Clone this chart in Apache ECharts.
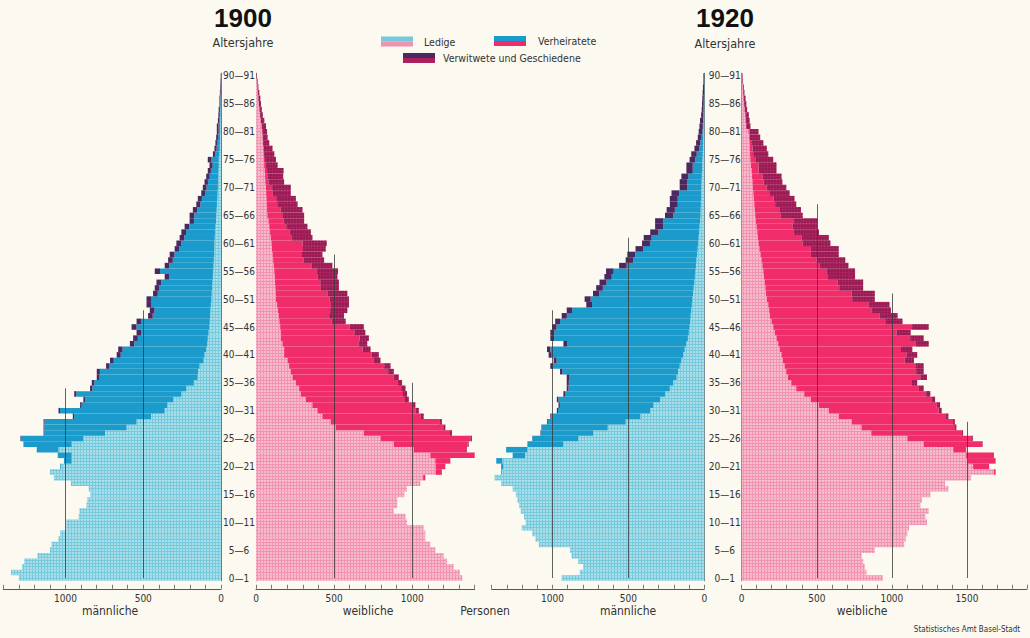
<!DOCTYPE html>
<html><head><meta charset="utf-8">
<script src="https://cdn.jsdelivr.net/npm/echarts/dist/echarts.min.js"></script>
<style>html,body{margin:0;padding:0;background:#fbf9f0;}#c{width:1030px;height:638px;}</style>
</head><body><div id="c"></div><script>
// Age categories 0..90 (single years)
const ages = Array.from({length: 91}, (_, i) => String(i));
const ageTickLabels = ['0—1','5—6','10—11','15—16','20—21','25—26','30—31','35—36','40—41','45—46','50—51','55—56','60—61','65—66','70—71','75—76','80—81','85—86','90—91'];
const xTickLabels = [0, 500, 1000, 1500];

// 1900 männliche
const m1900Single = [1300,1350,1280,1265,1180,1100,1090,1045,1035,995, 995,915,910,865,860,840,850,965,1075,1100, 1030,960,960,1045,960,885,746,607,543,450, 362,345,308,255,223,175,150,148,138,112, 106,95,88,85,80,74,72,70,68,65, 62,60,58,55,52,50,48,46,44,43, 42,40,38,35,32,30,28,26,24,22, 20,19,18,16,14,14,10,8,7,6, 5,5,4,3,3,2,2,1,1,1,0];
const m1900Married = [0,0,0,0,0,0,0,0,0,0, 0,0,0,0,0,0,0,0,0,0, 5,50,90,140,308,402,391,529,592,495, 673,551,565,675,604,640,631,631,579,578, 539,538,470,450,433,469,439,369,360,382, 385,347,338,330,282,342,284,264,256,225, 215,196,187,169,142,142,125,107,99,81, 73,65,55,49,40,47,26,20,16,13, 10,10,6,5,4,2,2,1,1,0,0];
const m1900Widowed = [0,0,0,0,0,0,0,0,0,0, 0,0,0,0,0,0,0,0,0,0, 0,0,0,0,2,3,4,5,6,8, 10,10,12,14,15,16,18,20,22,24, 26,28,28,30,30,32,32,30,30,32, 32,30,30,30,28,34,30,30,30,30, 30,30,30,30,28,30,28,26,26,24, 24,22,22,20,20,24,16,14,13,12, 12,12,10,9,8,6,6,5,4,3,2];
// 1900 weibliche
const f1900Single = [1320,1305,1265,1222,1201,1148,1116,1084,1084,1073, 967,957,882,904,904,950,967,1052,1070,1150, 1150,1148,1116,1010,882,797,691,510,478,425, 393,361,319,287,276,255,234,223,212,202, 180,180,170,159,159,155,150,145,140,135, 128,126,124,122,120,117,114,110,106,102, 99,95,90,85,80,73,71,69,67,65, 64,60,58,56,52,50,48,46,44,42, 40,36,30,25,22,18,15,11,8,6,3];
const f1900Married = [0,0,0,0,0,0,0,0,0,0, 0,0,0,0,0,0,0,0,14,40, 62,96,296,336,473,575,551,688,696,630, 629,637,635,654,653,650,647,623,609,553, 561,503,487,504,471,445,334,323,335,345, 342,334,292,289,276,273,240,196,184,199, 199,136,126,109,98,100,87,67,63,43, 39,20,16,15,11,8,4,2,1,2, 1,2,1,1,1,1,1,1,1,0,0];
const f1900Widowed = [0,0,0,0,0,0,0,0,0,0, 0,0,0,0,0,0,0,0,0,0, 0,0,2,4,6,10,12,14,16,18, 20,22,24,26,28,30,33,36,40,42, 45,50,55,60,70,90,90,95,110,115, 125,125,115,120,125,135,135,130,135,145, 155,130,135,135,130,135,140,130,125,115, 120,100,100,105,75,70,65,58,40,30, 30,26,22,17,14,13,12,9,6,5,3];
// 1920 männliche
const m1920Single = [940,820,798,830,874,885,1089,1111,1133,1202, 1176,1187,1208,1219,1230,1241,1262,1338,1381,1333, 1323,1330,1180,1165,928,830,733,636,518,421, 356,335,291,259,227,205,183,173,162,151, 140,129,118,108,102,97,93,90,86,82, 78,74,70,66,62,58,55,52,48,44, 40,37,34,31,28,25,24,23,22,21, 20,18,16,14,13,12,10,9,8,7, 6,5,4,3,3,2,2,1,1,1,0];
const m1920Married = [0,0,0,0,0,0,0,0,0,0, 0,0,0,0,0,0,0,0,0,5, 15,40,82,140,237,301,343,432,513,587, 607,616,670,658,667,687,708,761,834,822, 865,885,786,881,885,876,857,815,784,657, 670,617,598,578,548,539,456,416,407,357, 318,310,268,239,242,179,170,152,153,145, 94,96,89,62,63,47,40,24,18,11, 7,5,4,3,2,2,1,1,1,0,1];
const m1920Widowed = [0,0,0,0,0,0,0,0,0,0, 0,0,0,0,0,0,0,0,0,0, 0,0,0,0,0,2,3,4,5,6, 8,9,10,11,12,14,15,16,18,19, 20,22,24,25,27,30,32,34,36,38, 40,42,44,46,48,50,50,50,52,52, 52,52,54,54,54,55,54,52,52,50, 48,48,46,42,42,38,36,32,28,25, 24,22,20,15,12,11,10,9,7,5,5];
// 1920 weibliche
const f1920Single = [940,831,820,809,798,886,1082,1092,1103,1114, 1234,1223,1245,1190,1201,1256,1376,1354,1528,1680, 1541,1507,1495,1409,1212,1103,863,798,733,646, 580,515,461,417,363,330,308,297,286,275, 265,254,243,232,221,210,199,188,183,177, 167,162,158,153,148,144,138,132,125,118, 112,108,104,99,94,90,87,84,81,78, 75,72,69,66,62,58,56,54,52,50, 45,28,26,24,20,16,12,9,7,5,4];
const f1920Married = [0,0,0,0,0,0,0,0,0,0, 0,0,0,0,0,0,0,0,0,11, 107,184,185,84,389,431,604,623,674,715, 732,784,802,811,817,799,881,865,871,810, 834,807,917,890,809,925,757,730,681,667, 569,569,491,486,427,421,383,368,336,343, 294,292,241,240,250,171,163,139,131,106, 92,74,71,46,50,37,21,18,12,5, 7,2,2,2,1,1,1,1,1,0,0];
const f1920Widowed = [0,0,0,0,0,0,0,0,0,0, 0,0,0,0,0,0,0,0,0,0, 0,0,0,2,3,5,7,9,12,15, 20,22,25,28,32,40,45,50,55,62, 70,75,85,90,95,110,115,120,130,140, 150,155,160,170,180,190,190,190,185,185, 185,180,170,165,160,145,145,140,140,135, 130,125,125,120,120,115,100,95,80,68, 60,28,25,21,15,14,12,8,6,4,3];

const statusNames = ['Ledige', 'Verheiratete', 'Verwitwete und Geschiedene'];

const FONT = '"Liberation Sans Narrow","DejaVu Sans Condensed","DejaVu Sans",sans-serif';
const COL = {
  male: ['#74c9dc', '#1a9bcb', '#4a2860'],
  female: ['#f193b0', '#f12c6a', '#a9225d']
};
const dots = {symbol: 'rect', symbolSize: 1, dashArrayX: [2, 1], dashArrayY: [2, 1], color: 'rgba(255,255,255,0.38)'};
const darkDots = {symbol: 'rect', symbolSize: 1, dashArrayX: [2, 1], dashArrayY: [2, 1], color: 'rgba(120,20,70,0.45)'};

const TOP = 73.2, HEIGHT = 507.6;
const panels = [
  {left: 3.3,   width: 217.7, max: 1400, male: true,  margin: 17, data: [m1900Single, m1900Married, m1900Widowed], refs: [[500, 48], [1000, 34]]},
  {left: 256,   width: 218.7, max: 1400, male: false, margin: 17, data: [f1900Single, f1900Married, f1900Widowed], refs: [[500, 58], [1000, 35]]},
  {left: 491.7, width: 212.6, max: 1400, male: true,  margin: 17, data: [m1920Single, m1920Married, m1920Widowed], refs: [[500, 61], [1000, 48]]},
  {left: 741.7, width: 290.1, max: 1900, male: false, margin: 17, data: [f1920Single, f1920Married, f1920Widowed], refs: [[500, 67], [1000, 51], [1500, 28]]}
];

const grid = [], xAxis = [], yAxis = [], series = [];
panels.forEach((p, i) => {
  grid.push({left: p.left, width: p.width, top: TOP, height: HEIGHT, containLabel: false});
  xAxis.push({
    gridIndex: i, type: 'value', min: 0, max: p.max, interval: 100, inverse: p.male, offset: 8,
    axisLine: {show: true, lineStyle: {color: '#555', width: 1}},
    axisTick: {show: true, inside: true, length: 4, lineStyle: {color: '#555', width: 0.8}},
    axisLabel: {formatter: v => (xTickLabels.indexOf(v) >= 0 ? String(v) : ''), fontSize: 10, color: '#333', margin: 5, fontFamily: FONT},
    splitLine: {show: false}
  });
  yAxis.push({
    gridIndex: i, type: 'category', data: ages, position: p.male ? 'right' : 'left',
    axisLine: {show: true, onZero: false, lineStyle: {color: '#555', width: 0.8}},
    axisTick: {show: false},
    axisLabel: p.male ? {show: false} : {
      show: true, interval: 4, align: 'center', margin: p.margin, fontSize: 10, color: '#333', fontFamily: FONT,
      formatter: (v, idx) => ageTickLabels[idx / 5] || ''
    },
    splitLine: {show: false}
  });
  const cols = p.male ? COL.male : COL.female;
  p.data.forEach((arr, k) => {
    const s = {
      type: 'bar', name: statusNames[k], xAxisIndex: i, yAxisIndex: i, stack: 'st' + i,
      data: arr, barCategoryGap: '0%', silent: true, z: k === 2 ? 3 : 2,
      itemStyle: {color: cols[k], borderWidth: 0}
    };
    if (k === 0) s.itemStyle.decal = dots;
    if (k === 2 && !p.male) s.itemStyle.decal = darkDots;
    if (k === 2) {
      s.markLine = {
        silent: true, symbol: 'none', label: {show: false}, animation: false,
        lineStyle: {color: '#3a3a3a', width: 0.8, type: 'solid'},
        data: p.refs.map(([v, a]) => [{coord: [v, 0]}, {coord: [v, a]}])
      };
    }
    series.push(s);
  });
});

function txt(x, y, t, size, opts) {
  return {type: 'text', x: x, y: y, silent: true,
    style: {text: t, font: (opts && opts.bold ? 'bold ' : '') + size + 'px ' + (opts && opts.family ? opts.family : FONT),
      fill: (opts && opts.fill) || '#333', align: (opts && opts.align) || 'center', verticalAlign: 'middle',
      textAlign: (opts && opts.align) || 'center', textVerticalAlign: 'middle'}};
}
function swatch(x, y, top, bottom) {
  return [
    {type: 'rect', silent: true, shape: {x: x, y: y, width: 32, height: 5}, style: {fill: top}},
    {type: 'rect', silent: true, shape: {x: x, y: y + 5, width: 32, height: 5}, style: {fill: bottom}}
  ];
}

const graphic = [
  txt(243, 18, '1900', 26, {bold: true, fill: '#111', family: '"Liberation Sans","DejaVu Sans",sans-serif'}),
  txt(725, 18, '1920', 26, {bold: true, fill: '#111', family: '"Liberation Sans","DejaVu Sans",sans-serif'}),
  txt(243, 42, 'Altersjahre', 12.5),
  txt(725, 43, 'Altersjahre', 12.5),
  ...swatch(381, 36.5, COL.male[0], COL.female[0]),
  txt(424, 41.5, statusNames[0], 10.5, {align: 'left'}),
  ...swatch(494, 36, COL.male[1], COL.female[1]),
  txt(538, 41, statusNames[1], 10.5, {align: 'left'}),
  ...swatch(403, 53, COL.male[2], COL.female[2]),
  txt(443, 58, statusNames[2], 10.5, {align: 'left'}),
  txt(110, 611, 'männliche', 12),
  txt(368, 611, 'weibliche', 12),
  txt(485, 611, 'Personen', 12),
  txt(628, 611, 'männliche', 12),
  txt(862, 611, 'weibliche', 12),
  txt(967, 629, 'Statistisches Amt Basel-Stadt', 8)
];

const chart = echarts.init(document.getElementById('c'), null, {renderer: 'svg'});
chart.setOption({
  backgroundColor: '#fbf9f0',
  animation: false,
  grid, xAxis, yAxis, series, graphic
});
</script></body></html>
